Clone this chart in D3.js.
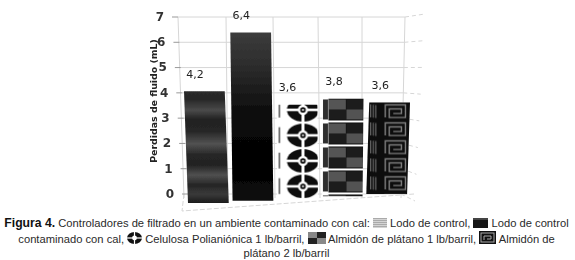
<!DOCTYPE html>
<html>
<head>
<meta charset="utf-8">
<script src="https://cdn.jsdelivr.net/npm/d3@7"></script>
<style>
  html, body { margin: 0; padding: 0; background: #fff; }
  #fig { position: absolute; left: 0; top: 0; width: 575px; height: 260px; overflow: hidden; }
  #caption { position: absolute; left: 0; top: 216px; width: 573px; text-align: center;
    font-family: "Liberation Sans", Arial, sans-serif; font-size: 11.2px; line-height: 15px; color: #2a2a2a; white-space: nowrap; }
  #caption div { height: 15px; }
  #caption svg { vertical-align: -1px; }
  #caption b { font-size: 12.2px; color: #111; }
</style>
</head>
<body>
<div id="fig"><svg id="chart" width="575" height="215"></svg><div id="caption"></div></div>
<script>
var categories = ['Lodo de control', 'Lodo de control contaminado con cal', 'Celulosa Polianiónica 1 lb/barril',
  'Almidón de plátano 1 lb/barril', 'Almidón de plátano 2 lb/barril'];
var values = [4.2, 6.4, 3.6, 3.8, 3.6];
var valueLabels = ['4,2', '6,4', '3,6', '3,8', '3,6'];
var tickValues = [0, 1, 2, 3, 4, 5, 6, 7];
var yTitle = 'Perdidas de fluido (mL)';
var captionLines = [
  [{b: 'Figura 4.'}, ' Controladores de filtrado en un ambiente contaminado con cal: ', {k: 0}, ' Lodo de control, ', {k: 1}, ' Lodo de control'],
  ['contaminado con cal, ', {k: 2}, ' Celulosa Polianiónica 1 lb/barril, ', {k: 3}, ' Almidón de plátano 1 lb/barril, ', {k: 4}, ' Almidón de'],
  ['plátano 2 lb/barril']
];

var svg = d3.select('#chart');
var defs = svg.append('defs');

// the picture is a soft 3D chart, so everything leans a bit with x
var xScale = d3.scaleBand().domain(categories).range([184, 410]).paddingInner(0.12).paddingOuter(0);
var baseY = d3.scaleLinear().domain([184, 371]).range([203, 193.8]);
var unitY = d3.scaleLinear().domain([184, 371]).range([26.6, 25.4]);
var lean = d3.scaleLinear().domain([184, 371]).range([4, -3]);
var yAxisScale = d3.scaleLinear().domain([0, 7]).range([194, 17]);
var wallX = d3.scaleLinear().domain([0, 7]).range([188, 178]);
var rightX = d3.scaleLinear().domain([0, 7]).range([401, 405]);
var sideX = d3.scaleLinear().domain([0, 7]).range([415, 425]);
var sideDy = d3.scaleLinear().domain([0, 7]).range([7, -3]);

defs.append('filter').attr('id', 'soft').append('feGaussianBlur').attr('stdDeviation', 0.45);

var stripes = defs.append('linearGradient').attr('id', 'barStripes').attr('x1', 0).attr('y1', 0).attr('x2', 0).attr('y2', 1);
[[0, '#2a2a2a'], [0.07, '#262626'], [0.17, '#4a4a4a'], [0.25, '#222'], [0.36, '#262626'], [0.47, '#525252'],
 [0.57, '#262626'], [0.66, '#222'], [0.75, '#505050'], [0.84, '#252525'], [0.92, '#3a3a3a'], [1, '#1c1c1c']]
  .forEach(function(s) { stripes.append('stop').attr('offset', s[0]).attr('stop-color', s[1]); });

var blackFade = defs.append('linearGradient').attr('id', 'barBlack').attr('x1', 0).attr('y1', 0).attr('x2', 0).attr('y2', 1);
[[0, '#3c3c3c'], [0.2, '#2c2c2c'], [0.5, '#0a0a0a'], [0.8, '#020202'], [1, '#0c0c0c']]
  .forEach(function(s) { blackFade.append('stop').attr('offset', s[0]).attr('stop-color', s[1]); });

function flowerTile(g, w, h) {
  var cx = w / 2 + 6, cy = h / 2;
  g.append('rect').attr('width', w).attr('height', h).attr('fill', '#fff');
  g.append('ellipse').attr('cx', cx).attr('cy', cy).attr('rx', w * 0.36).attr('ry', h * 0.46).attr('fill', '#0a0a0a');
  g.append('rect').attr('x', 0).attr('y', cy - 1.3).attr('width', w).attr('height', 2.6).attr('fill', '#fff');
  g.append('rect').attr('x', cx - 1.5).attr('y', 0).attr('width', 3).attr('height', h).attr('fill', '#fff');
  g.append('circle').attr('cx', cx).attr('cy', cy).attr('r', h * 0.2).attr('fill', '#fff');
  g.append('circle').attr('cx', cx).attr('cy', cy).attr('r', h * 0.11).attr('fill', '#0a0a0a');
  g.append('circle').attr('cx', cx).attr('cy', cy).attr('r', h * 0.04).attr('fill', '#fff');
  g.append('rect').attr('x', 4).attr('y', h * 0.18).attr('width', 1.4).attr('height', h * 0.62).attr('fill', '#444');
}

function checkTile(g, w, h) {
  var side = 5, gap = 2;
  var fw = (w - side - 5) / 2, fh = (h - gap) / 2;
  g.append('rect').attr('width', w).attr('height', h).attr('fill', '#fff');
  g.append('rect').attr('x', 2).attr('y', 1).attr('width', side).attr('height', h - gap - 2).attr('fill', '#2e2e2e');
  g.append('rect').attr('x', side + 2.5).attr('y', 0).attr('width', w - side - 4.5).attr('height', h - gap).attr('fill', '#0c0c0c');
  [[0, 0, '#555'], [1, 0, '#1e1e1e'], [0, 1, '#1a1a1a'], [1, 1, '#525252']].forEach(function(c) {
    g.append('rect').attr('x', side + 3 + c[0] * fw).attr('y', 1 + c[1] * (fh - 1)).attr('width', fw - 0.5).attr('height', fh - 1).attr('fill', c[2]);
  });
}

function spiralTile(g, w, h) {
  var side = w * 0.25, fx = side + 1, fw = w - fx;
  g.append('rect').attr('width', w).attr('height', h).attr('fill', '#0c0c0c');
  d3.range(3).forEach(function(i) {
    g.append('rect').attr('x', 3 + i * 2.6).attr('y', 2 + i * 0.3).attr('width', 1).attr('height', h - 5).attr('fill', '#777');
  });
  var a = fx + fw * 0.18, b = fx + fw * 0.8, t = h * 0.14, u = h * 0.84;
  var spiral = d3.path();
  spiral.moveTo(a, u); spiral.lineTo(a, t); spiral.lineTo(b, t); spiral.lineTo(b, u);
  spiral.lineTo(a + 4, u); spiral.lineTo(a + 4, t + 4); spiral.lineTo(b - 4, t + 4);
  spiral.lineTo(b - 4, u - 4); spiral.lineTo(a + 8, u - 4);
  g.append('path').attr('d', spiral.toString()).attr('fill', 'none').attr('stroke', '#808080').attr('stroke-width', 1.4);
}

var tiles = [null, null, {draw: flowerTile, h: 25.5, off: -7.7}, {draw: checkTile, h: 24, off: 0}, {draw: spiralTile, h: 18, off: 0}];
var fills = ['url(#barStripes)', 'url(#barBlack)', 'url(#tile2)', 'url(#tile3)', 'url(#tile4)'];

function barLeft(d) { return xScale(d); }
function barTop(i) { return baseY(xScale(categories[i])) - values[i] * unitY(xScale(categories[i])); }

tiles.forEach(function(t, i) {
  if (!t) return;
  var w = xScale.bandwidth() + 4;
  var p = defs.append('pattern').attr('id', 'tile' + i).attr('patternUnits', 'userSpaceOnUse')
    .attr('x', barLeft(categories[i]) - 2).attr('y', barTop(i) + t.off).attr('width', w).attr('height', t.h);
  t.draw(p.append('g'), w, t.h);
});

var plot = svg.append('g').attr('filter', 'url(#soft)');

// walls and floor
var grid = plot.append('g').attr('fill', 'none').attr('stroke', '#d6d6d6').attr('stroke-width', 1);
grid.selectAll('.h').data(tickValues).enter().append('line')
  .attr('x1', function(d) { return wallX(d); }).attr('x2', function(d) { return rightX(d); })
  .attr('y1', function(d) { return yAxisScale(d); }).attr('y2', function(d) { return yAxisScale(d); });
grid.selectAll('.s').data(tickValues).enter().append('line')
  .attr('x1', function(d) { return rightX(d); }).attr('x2', function(d) { return sideX(d); })
  .attr('y1', function(d) { return yAxisScale(d); }).attr('y2', function(d) { return yAxisScale(d) + sideDy(d); })
  .attr('stroke-dasharray', '4 3');
[[178, 184], [226, 228], [273, 275], [318, 320], [362, 362], [405, 401]].forEach(function(v) {
  grid.append('line').attr('x1', v[0]).attr('x2', v[1]).attr('y1', yAxisScale(7)).attr('y2', yAxisScale(0) + 4);
});
grid.append('path').attr('d', d3.line()([[184, 194], [182, 211], [414, 194]])).attr('stroke-dasharray', '5 2');

// axis from the library, each tick pushed along the slanted wall
var axis = plot.append('g').attr('class', 'axis')
  .call(d3.axisLeft(yAxisScale).tickValues(tickValues).tickFormat(d3.format('d')).tickSize(6).tickPadding(8));
axis.select('.domain').remove();
axis.selectAll('.tick').attr('transform', function(d) { return 'translate(' + wallX(d) + ',' + yAxisScale(d) + ')'; });
axis.selectAll('line').attr('stroke', '#999');
axis.selectAll('text').attr('font-family', 'DejaVu Sans').attr('font-size', 12).attr('font-weight', 'bold').attr('fill', '#333');

plot.append('text').attr('transform', 'translate(157,101) rotate(-90)').attr('text-anchor', 'middle')
  .attr('font-family', 'DejaVu Sans').attr('font-size', 9.4).attr('font-weight', 'bold').attr('fill', '#222').text(yTitle);

// bars
plot.selectAll('.bar').data(categories).enter().append('path').attr('class', 'bar')
  .attr('d', function(d, i) {
    var x0 = xScale(d), w = xScale.bandwidth(), b = baseY(x0), t = b - values[i] * unitY(x0), l = lean(x0);
    return d3.line()([[x0, t], [x0 + w, t], [x0 + w + l, b], [x0 + l, b]]) + 'Z';
  })
  .attr('fill', function(d, i) { return fills[i]; });

plot.selectAll('.val').data(categories).enter().append('text').attr('class', 'val')
  .attr('x', function(d) { return xScale(d) + 11; })
  .attr('y', function(d, i) { return barTop(i) - 13.5; })
  .attr('text-anchor', 'middle').attr('font-family', 'DejaVu Sans').attr('font-size', 11).attr('fill', '#222')
  .text(function(d, i) { return valueLabels[i]; });

// caption with the little pattern swatches inside the text
var caption = d3.select('#caption');
function swatch(line, k) {
  var w = [14, 15, 15, 18, 17][k], h = [10, 10, 12, 12, 13][k];
  var s = line.append('svg').attr('width', w).attr('height', h);
  if (k === 0) {
    d3.range(5).forEach(function(i) {
      s.append('rect').attr('y', i * 2).attr('width', w).attr('height', 1).attr('fill', '#aaa');
      s.append('rect').attr('y', i * 2 + 1).attr('width', w).attr('height', 1).attr('fill', '#d4d4d4');
    });
  } else if (k === 1) {
    s.append('rect').attr('width', w).attr('height', h).attr('fill', '#161616');
    s.append('rect').attr('width', w).attr('height', 2).attr('fill', '#444');
  } else if (k === 2) {
    s.append('ellipse').attr('cx', w / 2).attr('cy', h / 2).attr('rx', w / 2).attr('ry', h / 2).attr('fill', '#111');
    s.append('rect').attr('y', h / 2 - 0.6).attr('width', w).attr('height', 1.2).attr('fill', '#fff');
    s.append('rect').attr('x', w / 2 - 0.6).attr('width', 1.2).attr('height', h).attr('fill', '#fff');
    s.append('circle').attr('cx', w / 2).attr('cy', h / 2).attr('r', 2.4).attr('fill', '#fff');
  } else if (k === 3) {
    [[0, 0, '#888'], [1, 0, '#222'], [0, 1, '#222'], [1, 1, '#888']].forEach(function(c) {
      s.append('rect').attr('x', c[0] * w / 2).attr('y', c[1] * h / 2).attr('width', w / 2).attr('height', h / 2).attr('fill', c[2]);
    });
  } else {
    s.append('rect').attr('width', w).attr('height', h).attr('fill', '#111');
    s.append('rect').attr('x', 2).attr('y', 2).attr('width', w - 4).attr('height', h - 4).attr('fill', 'none').attr('stroke', '#aaa');
    s.append('path').attr('d', d3.line()([[5, h - 4], [5, 5], [w - 5, 5], [w - 5, h - 5], [8, h - 5]])).attr('fill', 'none').attr('stroke', '#aaa');
  }
}
captionLines.forEach(function(parts) {
  var line = caption.append('div');
  parts.forEach(function(p) {
    if (typeof p === 'string') line.append('span').style('white-space', 'pre').text(p);
    else if (p.b) line.append('b').text(p.b);
    else swatch(line, p.k);
  });
});
</script>
</body>
</html>
